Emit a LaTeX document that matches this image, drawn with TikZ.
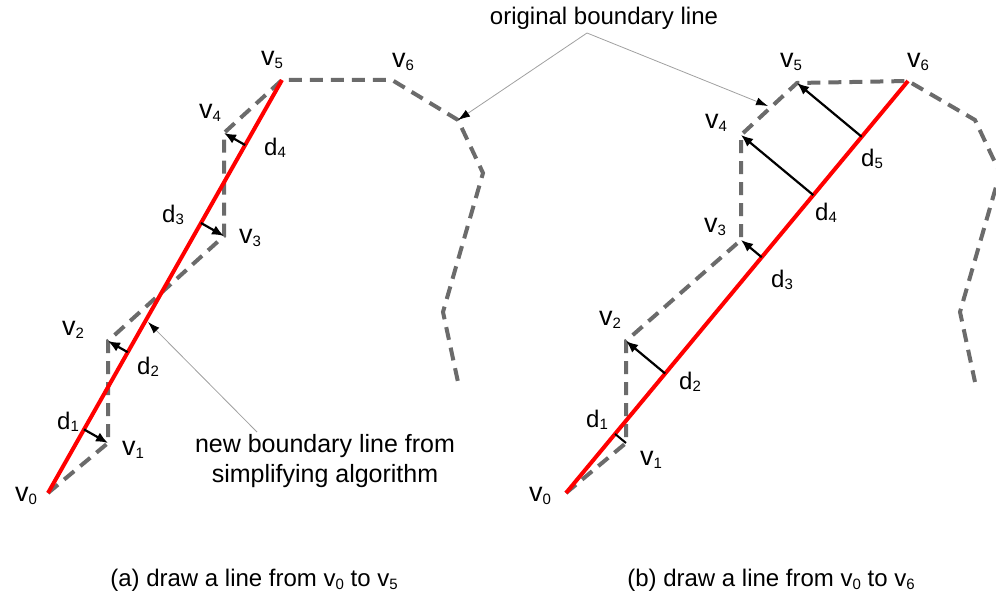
\documentclass[tikz,border=0pt]{standalone}
\usepackage{fontspec}
\setmainfont{Liberation Sans}
\usetikzlibrary{arrows.meta,calc}
\definecolor{bgray}{HTML}{6B6B6B}
\definecolor{lgray}{HTML}{A0A0A0}
\newcommand\vlab[1]{{\fontsize{27}{27}\selectfont v}\raisebox{-2.5pt}{\fontsize{15}{15}\selectfont #1}}
\newcommand\dlab[1]{{\fontsize{24}{24}\selectfont d}\raisebox{-2.5pt}{\fontsize{15}{15}\selectfont #1}}
\newcommand\vcap[1]{v\raisebox{-3pt}{\fontsize{15}{15}\selectfont #1}}
\begin{document}
\begin{tikzpicture}[x=1pt,y=-1pt,
  bnd/.style={bgray, line width=4pt, dash pattern=on 13pt off 8pt},
  newl/.style={red, line width=4pt},
  darr/.style={line width=2.2pt, -{Latex[length=12pt,width=10pt]}},
  dline/.style={line width=2pt},
  lead/.style={lgray, line width=0.8pt, -{Latex[length=12pt,width=8pt,color=black]}},
  lab/.style={inner sep=0pt, font=\fontsize{24}{24}\selectfont}]
\useasboundingbox (0,0) rectangle (996,604);
\clip (0,0) rectangle (996,604);
% ---------- (a) ----------
\coordinate (a0) at (48,493);
\coordinate (a1) at (108,443);
\coordinate (a2) at (108,341);
\coordinate (a3) at (224,236);
\coordinate (a4) at (224,133);
\coordinate (a5) at (282,80);
\coordinate (a6) at (392,80);
\coordinate (a7) at (458,120);
\coordinate (a8) at (483,173);
\coordinate (a9) at (443,312);
\coordinate (a10) at (458,382);
\draw[bnd] (a0) -- (a1) -- (a2) -- (a3) -- (a4) -- (a5) -- (a6) -- (a7) -- (a8) -- (a9) -- (a10);
\draw[newl] (a0) -- (a5);
\foreach \i in {1,2,3,4}{
  \coordinate (fa\i) at ($(a0)!(a\i)!(a5)$);
  \draw[darr] (fa\i) -- (a\i);
}
\node[lab] (la0) at (26,496) {\vlab{0}};
\node[lab] (la1) at (133,450) {\vlab{1}};
\node[lab] (la2) at (73,330) {\vlab{2}};
\node[lab] (la3) at (250,238) {\vlab{3}};
\node[lab] (la4) at (210,113) {\vlab{4}};
\node[lab] (la5) at (272,60) {\vlab{5}};
\node[lab] (la6) at (403,62) {\vlab{6}};
\node[lab] (ld1) at (68,422) {\dlab{1}};
\node[lab] (ld2) at (148,367) {\dlab{2}};
\node[lab] (ld3) at (173,215) {\dlab{3}};
\node[lab] (ld4) at (275,148) {\dlab{4}};
% ---------- (b) ----------
\coordinate (b0) at (566,493);
\coordinate (b1) at (626,443);
\coordinate (b2) at (626,341);
\coordinate (b3) at (741,240);
\coordinate (b4) at (741,135);
\coordinate (b5) at (797,83);
\coordinate (b6) at (908,81);
\coordinate (b7) at (975,120);
\coordinate (b8) at (1000,173);
\coordinate (b9) at (960,312);
\coordinate (b10) at (975,382);
\draw[bnd] (b0) -- (b1) -- (b2) -- (b3) -- (b4) -- (b5) -- (b6) -- (b7) -- (b8) -- (b9) -- (b10);
\draw[newl] (b0) -- (b6);
\coordinate (fb1) at ($(b0)!(b1)!(b6)$);
\draw[dline] (fb1) -- (b1);
\foreach \i in {2,3,4,5}{
  \coordinate (fb\i) at ($(b0)!(b\i)!(b6)$);
  \draw[darr] (fb\i) -- (b\i);
}
\node[lab] (lb0) at (540,496) {\vlab{0}};
\node[lab] (lb1) at (651,460) {\vlab{1}};
\node[lab] (lb2) at (610,320) {\vlab{2}};
\node[lab] (lb3) at (715,227) {\vlab{3}};
\node[lab] (lb4) at (716,123) {\vlab{4}};
\node[lab] (lb5) at (791,62) {\vlab{5}};
\node[lab] (lb6) at (918,62) {\vlab{6}};
\node[lab] (le1) at (597,420) {\dlab{1}};
\node[lab] (le2) at (690,382) {\dlab{2}};
\node[lab] (le3) at (782,280) {\dlab{3}};
\node[lab] (le4) at (826,213) {\dlab{4}};
\node[lab] (le5) at (872,159) {\dlab{5}};
% ---------- annotations ----------
\node[lab] (orig) at (604,18) {original boundary line};
\coordinate (apex) at (587,33);
\coordinate (tipL) at (458,120);
\coordinate (tipR) at (768,106);
\draw[lead] (apex) -- (tipL);
\draw[lead] (apex) -- (tipR);
\node[lab, font=\fontsize{25}{25}\selectfont, align=center] (newb) at (325,461) {new boundary line from\\[5pt]simplifying algorithm};
\coordinate (nstart) at (257,432);
\coordinate (ntip) at (148,322);
\draw[lead] (nstart) -- (ntip);
\node[lab] (capa) at (254,580) {(a) draw a line from \vcap{0} to \vcap{5}};
\node[lab] (capb) at (771,580) {(b) draw a line from \vcap{0} to \vcap{6}};
\end{tikzpicture}
\end{document}
